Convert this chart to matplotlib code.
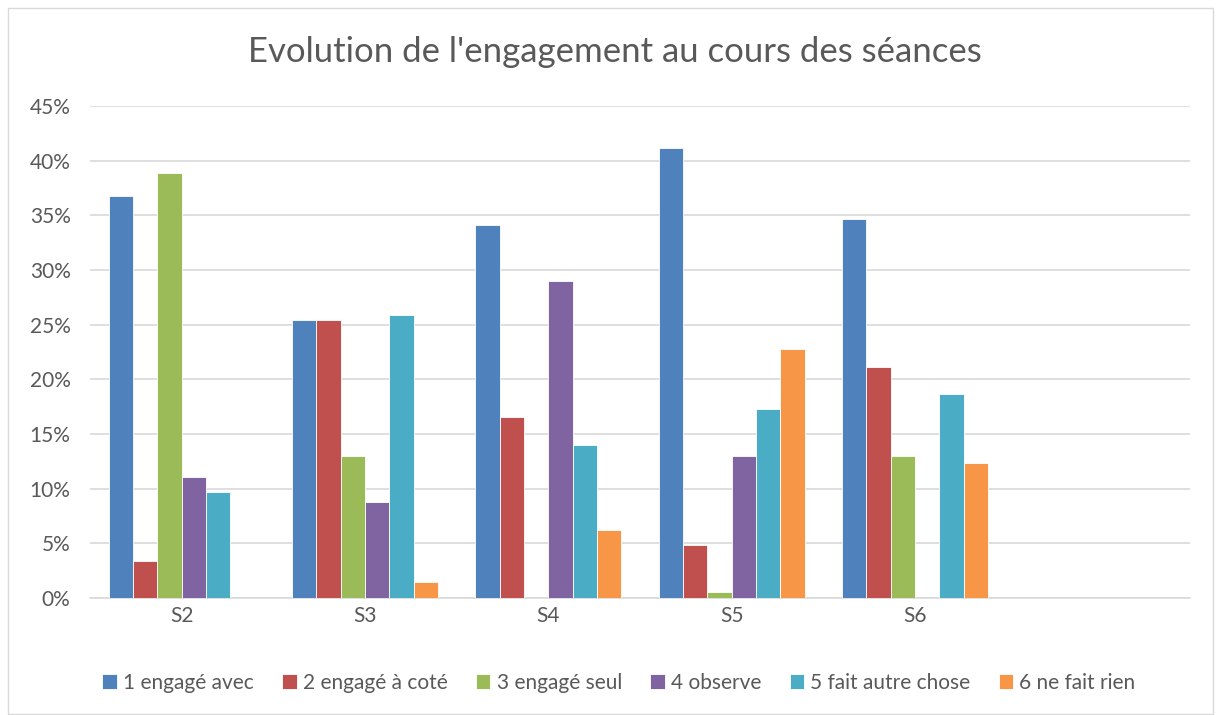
import numpy as np
import matplotlib.pyplot as plt
from matplotlib.patches import Rectangle
from matplotlib.ticker import FuncFormatter

plt.rcParams['font.family'] = ['Lato', 'DejaVu Sans']

# séances (la dernière catégorie est vide dans l'original)
seances = ['S2', 'S3', 'S4', 'S5', 'S6', '']
series = ['1 engagé avec', '2 engagé à coté', '3 engagé seul',
          '4 observe', '5 fait autre chose', '6 ne fait rien']

# valeurs en %
engage_avec = [36.8, 25.4, 34.1, 41.2, 34.7, 0]
engage_a_cote = [3.4, 25.4, 16.6, 4.85, 21.1, 0]
engage_seul = [38.9, 13.0, 0, 0.55, 13.0, 0]
observe = [11.1, 8.75, 29.0, 13.0, 0, 0]
autre_chose = [9.7, 25.9, 14.0, 17.3, 18.7, 0]
rien = [0, 1.5, 6.2, 22.8, 12.35, 0]

valeurs = [engage_avec, engage_a_cote, engage_seul, observe, autre_chose, rien]
couleurs = ['#4f81bd', '#c0504d', '#9bbb59', '#8064a2', '#4bacc6', '#f79646']

fig = plt.figure(figsize=(12.21, 7.15), dpi=100)
ax = fig.add_axes([90 / 1221, 1 - 598 / 715, 1100 / 1221, 492 / 715])

x = np.arange(len(seances))
w = 0.133
for i, (vals, c, lab) in enumerate(zip(valeurs, couleurs, series)):
    ax.bar(x + (i - 2.5) * w, vals, width=w, color=c, label=lab,
           edgecolor='white', linewidth=0.6, zorder=3)

ax.set_xlim(-0.5, len(seances) - 0.5)
ax.set_ylim(0, 45)
ax.set_yticks(np.arange(0, 46, 5))
ax.yaxis.set_major_formatter(FuncFormatter(lambda v, p: f'{v:.0f}%'))
ax.set_xticks(x)
ax.set_xticklabels(seances)
ax.grid(axis='y', color='#d9d9d9', linewidth=1.2, zorder=0)
ax.tick_params(length=0, labelsize=15, labelcolor='#595959')
ax.tick_params(axis='y', pad=14)
ax.tick_params(axis='x', pad=6)
for s in ['top', 'right', 'left']:
    ax.spines[s].set_visible(False)
ax.spines['bottom'].set_color('#d9d9d9')
ax.spines['bottom'].set_linewidth(1.2)

fig.text(615 / 1221, 1 - 52 / 715, "Evolution de l'engagement au cours des séances",
         ha='center', va='center', fontsize=25, color='#595959')

fig.legend(loc='center', bbox_to_anchor=(619 / 1221, 1 - 683 / 715), ncol=6,
           frameon=False, fontsize=15, handlelength=0.7, handleheight=0.7,
           handletextpad=0.3, columnspacing=1.35, labelcolor='#595959')

fig.patches.append(Rectangle((8 / 1221, 0.002), 1205 / 1221, 1 - 8 / 715 - 0.002,
                             transform=fig.transFigure, fill=False,
                             edgecolor='#d9d9d9', linewidth=1))

fig.savefig('out.png', dpi=100, facecolor='white')
